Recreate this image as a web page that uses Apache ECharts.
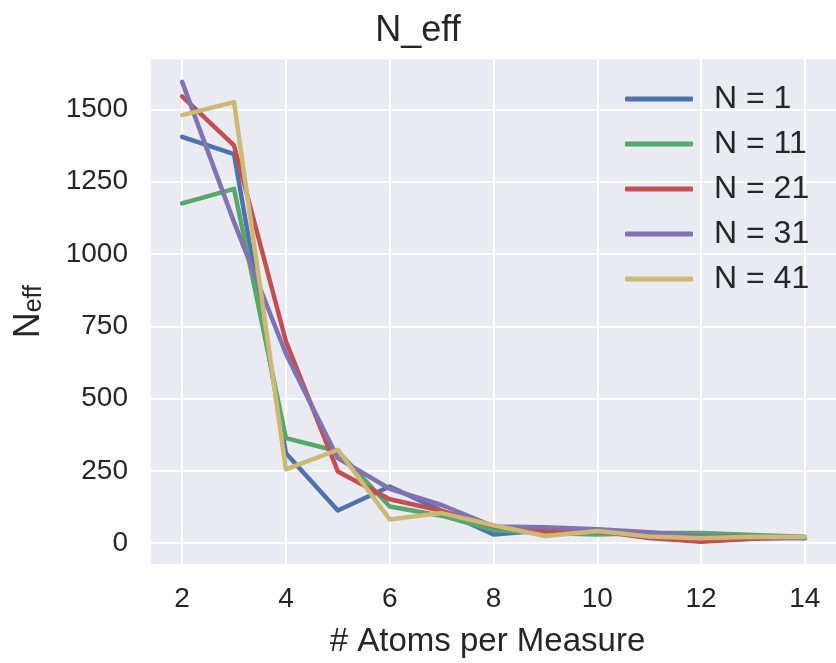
<!DOCTYPE html>
<html>
<head>
<meta charset="utf-8">
<script src="https://cdn.jsdelivr.net/npm/echarts@6/dist/echarts.min.js"></script>
<style>
  html, body { margin: 0; padding: 0; background: #fff; }
  #chart { width: 836px; height: 663px; }
</style>
</head>
<body>
<div id="chart"></div>
<script>
// atoms per measure
const atoms = [2, 3, 4, 5, 6, 7, 8, 9, 10, 11, 12, 13, 14];

// N_eff for each N
const n1  = [1405, 1345, 311, 113, 196, 112, 30, 45, 45, 35, 15, 18, 18];
const n11 = [1175, 1225, 363, 318, 127, 95, 45, 35, 30, 35, 35, 28, 22];
const n21 = [1545, 1375, 698, 248, 152, 112, 58, 42, 42, 18, 5, 15, 20];
const n31 = [1595, 1110, 655, 294, 188, 132, 58, 55, 48, 38, 25, 22, 17];
const n41 = [1480, 1525, 255, 323, 82, 104, 62, 25, 42, 23, 17, 22, 21];

const seriesNames = ['N = 1', 'N = 11', 'N = 21', 'N = 31', 'N = 41'];
const seriesValues = [n1, n11, n21, n31, n41];
const colors = ['#4C72B0', '#55A868', '#C44E52', '#8172B2', '#CCB974'];

const yTicks = [0, 250, 500, 750, 1000, 1250, 1500];
const xTicks = [2, 4, 6, 8, 10, 12, 14];

const font = '"Liberation Sans", Arial, sans-serif';
const textColor = '#262626';

const chart = echarts.init(document.getElementById('chart'), null, { renderer: 'canvas' });

const option = {
  animation: false,
  backgroundColor: '#ffffff',
  color: colors,
  title: {
    text: 'N_eff',
    left: 'center',
    top: 13,
    padding: 0,
    textStyle: { fontFamily: font, fontSize: 36, fontWeight: 'normal', color: textColor }
  },
  legend: {
    orient: 'vertical',
    left: 625,
    top: 83,
    padding: 0,
    itemWidth: 68,
    itemHeight: 5,
    itemGap: 13,
    icon: 'roundRect',
    data: seriesNames,
    textStyle: { fontFamily: font, fontSize: 32, color: textColor, lineHeight: 32, padding: [0, 0, 0, 16] }
  },
  grid: {
    left: 151,
    right: -9,
    top: 59.3,
    bottom: 96.3,
    show: true,
    backgroundColor: '#EAEAF2',
    borderWidth: 0
  },
  xAxis: {
    type: 'value',
    min: 1.4,
    max: 14.6,
    name: '# Atoms per Measure',
    nameLocation: 'middle',
    nameGap: 61,
    nameTextStyle: { fontFamily: font, fontSize: 33, color: textColor, padding: [0, 12, 0, 0] },
    axisLine: { show: false },
    axisTick: { show: false, customValues: xTicks },
    axisLabel: { customValues: xTicks, fontFamily: font, fontSize: 28, color: textColor, margin: 21 },
    splitLine: { show: true, lineStyle: { color: '#ffffff', width: 2 } }
  },
  yAxis: {
    type: 'value',
    min: -72,
    max: 1673,
    name: '{n|N}{s|eff}',
    nameLocation: 'middle',
    nameGap: 104,
    nameTextStyle: {
      rich: {
        n: { fontFamily: font, fontSize: 36, color: textColor, lineHeight: 36, verticalAlign: 'bottom' },
        s: { fontFamily: font, fontSize: 25, color: textColor, lineHeight: 17, verticalAlign: 'bottom' }
      }
    },
    axisLine: { show: false },
    axisTick: { show: false, customValues: yTicks },
    axisLabel: {
      customValues: yTicks,
      formatter: (v) => String(v),
      fontFamily: font, fontSize: 28, color: textColor, margin: 23
    },
    splitLine: { show: true, lineStyle: { color: '#ffffff', width: 2 } }
  },
  series: seriesNames.map((name, i) => ({
    name: name,
    type: 'line',
    data: atoms.map((a, j) => [a, seriesValues[i][j]]),
    showSymbol: false,
    symbol: 'none',
    lineStyle: { width: 4.5, cap: 'round', join: 'round', color: colors[i] },
    itemStyle: { color: colors[i] }
  }))
};

chart.setOption(option);
</script>
</body>
</html>
